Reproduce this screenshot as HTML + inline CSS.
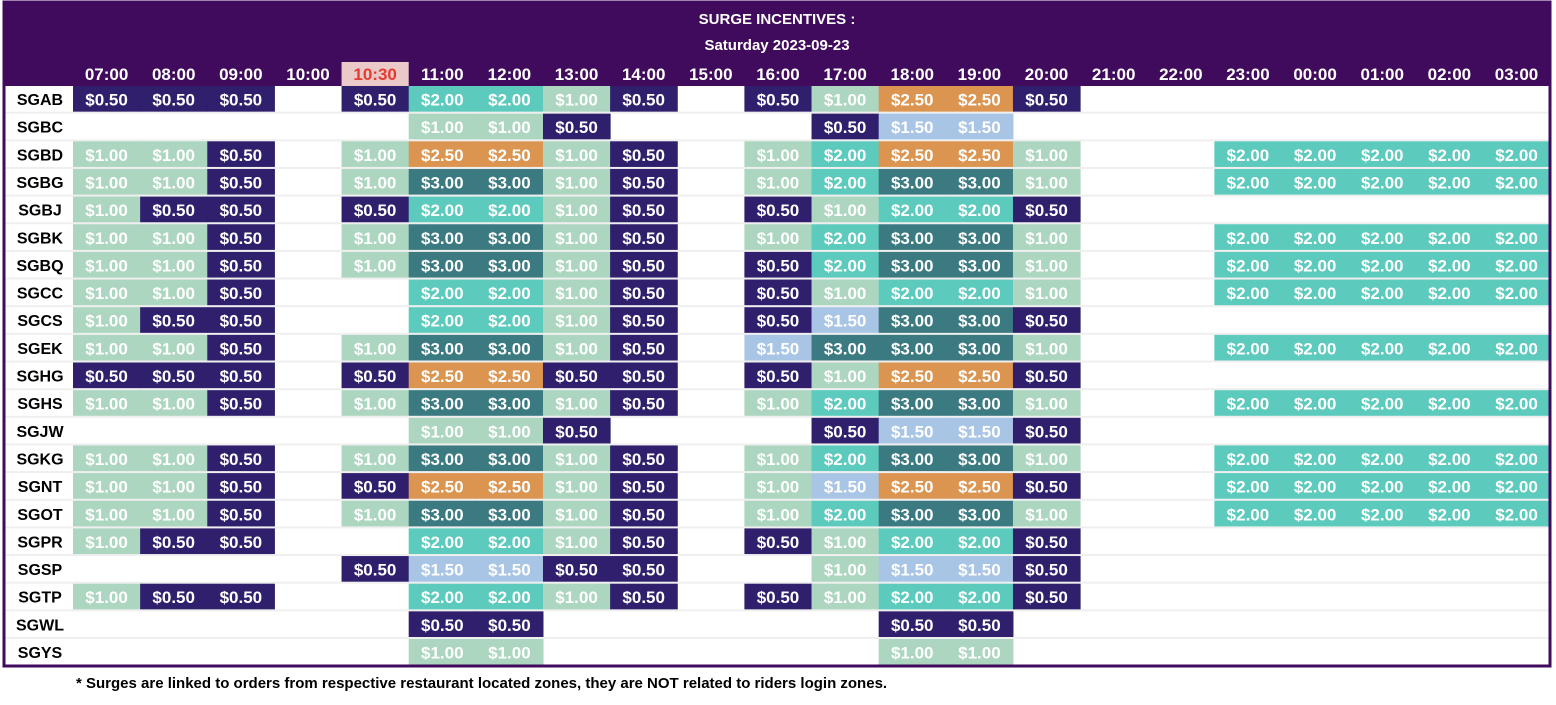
<!DOCTYPE html>
<html><head><meta charset="utf-8"><style>
body{margin:0;background:#fff;width:1556px;height:700px;overflow:hidden;font-family:"Liberation Sans",sans-serif}
svg text{font-family:"Liberation Sans",sans-serif;font-weight:bold}
</style></head><body>
<svg id="chart" width="1556" height="700" xmlns="http://www.w3.org/2000/svg">
<rect x="4" y="2" width="1546" height="84" fill="#400b5c"/>
<text x="777" y="24" fill="#fff" font-size="15" text-anchor="middle">SURGE INCENTIVES :</text>
<text x="777" y="50" fill="#fff" font-size="15" text-anchor="middle">Saturday 2023-09-23</text>
<g id="grid"></g>
<rect x="4" y="2" width="1546" height="664" fill="none" stroke="#400b5c" stroke-width="3"/>
<text x="76" y="688" fill="#000" font-size="15">* Surges are linked to orders from respective restaurant located zones, they are NOT related to riders login zones.</text>
</svg>
<script>
const times=["07:00","08:00","09:00","10:00","10:30","11:00","12:00","13:00","14:00","15:00","16:00","17:00","18:00","19:00","20:00","21:00","22:00","23:00","00:00","01:00","02:00","03:00"];
const zones=["SGAB","SGBC","SGBD","SGBG","SGBJ","SGBK","SGBQ","SGCC","SGCS","SGEK","SGHG","SGHS","SGJW","SGKG","SGNT","SGOT","SGPR","SGSP","SGTP","SGWL","SGYS"];
const _=0;
const surgeSGAB=[.5,.5,.5,_,.5,2,2,1,.5,_,.5,1,2.5,2.5,.5,_,_,_,_,_,_,_];
const surgeSGBC=[_,_,_,_,_,1,1,.5,_,_,_,.5,1.5,1.5,_,_,_,_,_,_,_,_];
const surgeSGBD=[1,1,.5,_,1,2.5,2.5,1,.5,_,1,2,2.5,2.5,1,_,_,2,2,2,2,2];
const surgeSGBG=[1,1,.5,_,1,3,3,1,.5,_,1,2,3,3,1,_,_,2,2,2,2,2];
const surgeSGBJ=[1,.5,.5,_,.5,2,2,1,.5,_,.5,1,2,2,.5,_,_,_,_,_,_,_];
const surgeSGBK=[1,1,.5,_,1,3,3,1,.5,_,1,2,3,3,1,_,_,2,2,2,2,2];
const surgeSGBQ=[1,1,.5,_,1,3,3,1,.5,_,.5,2,3,3,1,_,_,2,2,2,2,2];
const surgeSGCC=[1,1,.5,_,_,2,2,1,.5,_,.5,1,2,2,1,_,_,2,2,2,2,2];
const surgeSGCS=[1,.5,.5,_,_,2,2,1,.5,_,.5,1.5,3,3,.5,_,_,_,_,_,_,_];
const surgeSGEK=[1,1,.5,_,1,3,3,1,.5,_,1.5,3,3,3,1,_,_,2,2,2,2,2];
const surgeSGHG=[.5,.5,.5,_,.5,2.5,2.5,.5,.5,_,.5,1,2.5,2.5,.5,_,_,_,_,_,_,_];
const surgeSGHS=[1,1,.5,_,1,3,3,1,.5,_,1,2,3,3,1,_,_,2,2,2,2,2];
const surgeSGJW=[_,_,_,_,_,1,1,.5,_,_,_,.5,1.5,1.5,.5,_,_,_,_,_,_,_];
const surgeSGKG=[1,1,.5,_,1,3,3,1,.5,_,1,2,3,3,1,_,_,2,2,2,2,2];
const surgeSGNT=[1,1,.5,_,.5,2.5,2.5,1,.5,_,1,1.5,2.5,2.5,.5,_,_,2,2,2,2,2];
const surgeSGOT=[1,1,.5,_,1,3,3,1,.5,_,1,2,3,3,1,_,_,2,2,2,2,2];
const surgeSGPR=[1,.5,.5,_,_,2,2,1,.5,_,.5,1,2,2,.5,_,_,_,_,_,_,_];
const surgeSGSP=[_,_,_,_,.5,1.5,1.5,.5,.5,_,_,1,1.5,1.5,.5,_,_,_,_,_,_,_];
const surgeSGTP=[1,.5,.5,_,_,2,2,1,.5,_,.5,1,2,2,.5,_,_,_,_,_,_,_];
const surgeSGWL=[_,_,_,_,_,.5,.5,_,_,_,_,_,.5,.5,_,_,_,_,_,_,_,_];
const surgeSGYS=[_,_,_,_,_,1,1,_,_,_,_,_,1,1,_,_,_,_,_,_,_,_];
const surges=[surgeSGAB,surgeSGBC,surgeSGBD,surgeSGBG,surgeSGBJ,surgeSGBK,surgeSGBQ,surgeSGCC,surgeSGCS,surgeSGEK,surgeSGHG,surgeSGHS,surgeSGJW,surgeSGKG,surgeSGNT,surgeSGOT,surgeSGPR,surgeSGSP,surgeSGTP,surgeSGWL,surgeSGYS];
const colorFor=v=>({0.5:"#2f1f6c",1:"#acd6bf",1.5:"#a9c5e6",2:"#5ccabc",2.5:"#dc9550",3:"#3a7a80"})[v];
const X0=73,CW=67.14,Y0=86,RH=27.65;
const xs=i=>X0+i*CW, ys=j=>Y0+j*RH;
const NS="http://www.w3.org/2000/svg";
const g=document.getElementById('grid');
function mk(t,a){const e=document.createElementNS(NS,t);for(const k in a)e.setAttribute(k,a[k]);g.appendChild(e);return e;}
times.forEach((t,i)=>{
  if(t==="10:30"){const r=mk('rect',{x:xs(i),y:62,width:CW,height:24,fill:'#ecc9c9'});
    
    }
  const e=mk('text',{x:xs(i)+CW/2,y:80,'font-size':17,'text-anchor':'middle',fill:t==="10:30"?'#e53a30':'#fff'});
  e.textContent=t;
  
  
});
zones.forEach((z,j)=>{
  const sep=mk('rect',{x:5,y:ys(j)+RH-2,width:1544,height:2,fill:'#efefef'});
  
  
  const lab=mk('text',{x:40,y:ys(j)+19,'font-size':16,'text-anchor':'middle',fill:'#000'});
  lab.textContent=z;
  
  
  surges[j].forEach((v,i)=>{
    if(!v)return;
    const r=mk('rect',{x:xs(i),y:ys(j),width:CW+0.5,height:RH-2,fill:colorFor(v)});
    
    
    const t=mk('text',{x:xs(i)+CW/2,y:ys(j)+19.5,'font-size':17,'text-anchor':'middle',fill:'#fff'});
    t.textContent='$'+v.toFixed(2);
    
    
  });
});
</script>
</body></html>
